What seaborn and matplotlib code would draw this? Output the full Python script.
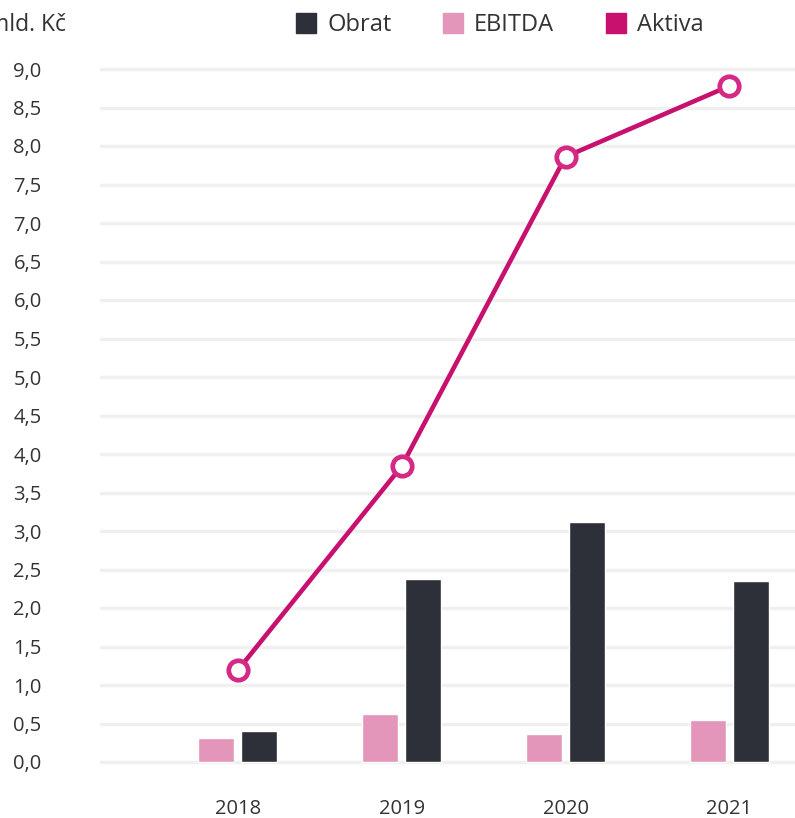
import matplotlib
matplotlib.use("Agg")
import matplotlib.pyplot as plt
from matplotlib.lines import Line2D
import seaborn as sns
import pandas as pd

years = ["2018", "2019", "2020", "2021"]
obrat = [0.40, 2.38, 3.12, 2.35]
ebitda = [0.31, 0.62, 0.36, 0.55]
aktiva = [1.19, 3.84, 7.86, 8.78]
y_ticks = [0.0, 0.5, 1.0, 1.5, 2.0, 2.5, 3.0, 3.5, 4.0, 4.5, 5.0, 5.5, 6.0, 6.5, 7.0, 7.5, 8.0, 8.5, 9.0]
unit_label = "mld. Kč"
series_names = ["Obrat", "EBITDA", "Aktiva"]

c_obrat = "#2d3038"
c_ebitda = "#e396b9"
c_aktiva = "#c8106e"
c_marker_edge = "#d42a85"

sns.set_theme(style="white")
plt.rcParams["font.family"] = ["Open Sans", "DejaVu Sans"]

W, H = 795, 818
fig = plt.figure(figsize=(W / 100, H / 100), dpi=100)

ymin, ymax = -0.1, 9.1
px_per_unit = 77.0
y0_px = 762
bottom_px = y0_px + (0 - ymin) * px_per_unit
top_px = y0_px - (ymax - 0) * px_per_unit
left_px, right_px = 100, 795
ax = fig.add_axes([left_px / W, (H - bottom_px) / H, (right_px - left_px) / W, (bottom_px - top_px) / H])

bars = pd.DataFrame({
    "year": years * 2,
    "value": ebitda + obrat,
    "series": ["EBITDA"] * len(years) + ["Obrat"] * len(years),
})
sns.barplot(data=bars, x="year", y="value", hue="series", order=years,
            hue_order=["EBITDA", "Obrat"], palette=[c_ebitda, c_obrat],
            width=0.52, gap=0.16, saturation=1, legend=False, ax=ax, zorder=3)

sns.pointplot(x=years, y=aktiva, order=years, color=c_aktiva, markers="o",
              linestyles="-", ax=ax, errorbar=None,
              markersize=14, markerfacecolor="white", markeredgecolor=c_marker_edge,
              markeredgewidth=3.4, linewidth=3.3)
for l in ax.lines:
    l.set_zorder(5)
    l.set_clip_on(False)

ax.set_ylim(ymin, ymax)
ax.set_xlim(-0.84, 3.40)
ax.set_yticks(y_ticks)
ax.set_yticklabels([f"{v:.1f}".replace(".", ",") for v in y_ticks])
ax.set_xlabel("")
ax.set_ylabel("")
for s in ax.spines.values():
    s.set_visible(False)
ax.grid(axis="y", color="#f0f0f0", linewidth=2.5, zorder=0)
ax.grid(axis="x", visible=False)
ax.set_axisbelow(True)
ax.tick_params(axis="y", length=0, pad=42, labelsize=14.5, labelcolor="#333333")
for t in ax.get_yticklabels():
    t.set_horizontalalignment("right")
ax.tick_params(axis="x", length=0, pad=21, labelsize=14.5, labelcolor="#333333")

fig.text(66 / W, 1 - 25 / H, unit_label, ha="right", va="center", fontsize=16.5, color="#333333")

handles = [Line2D([], [], marker="s", linestyle="none", markersize=14, color=c)
           for c in [c_obrat, c_ebitda, c_aktiva]]
fig.legend(handles, series_names, loc="center", bbox_to_anchor=(500 / W, 1 - 25 / H),
           ncol=3, frameon=False, fontsize=17, handlelength=0.8, handletextpad=0.5,
           columnspacing=2.2, labelcolor="#333333")

fig.savefig("out.png", dpi=100)
